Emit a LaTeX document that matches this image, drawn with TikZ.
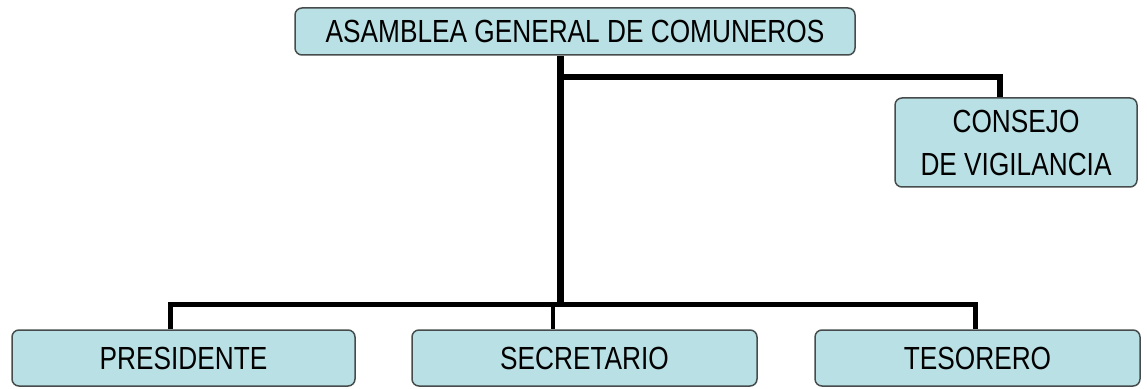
\documentclass[tikz,border=0pt]{standalone}
\usepackage{fontspec}
\setmainfont[FakeStretch=0.82]{Liberation Sans}
\usetikzlibrary{positioning}
\definecolor{celeste}{RGB}{185,224,228}
\definecolor{borde}{RGB}{70,76,76}
\tikzset{
	basic/.style  = {draw=borde, line width=1.5pt, fill=celeste, rounded corners=7pt,
		font=\fontsize{32}{43}\selectfont, align=center, inner sep=0pt},
	root/.style   = {basic, minimum width=560pt, minimum height=47pt},
	level 2/.style = {basic, minimum width=242pt, minimum height=89pt},
	level 3/.style = {basic, minimum height=56pt},
	enlace/.style = {draw=black, line width=5pt}
}
\begin{document}
\begin{tikzpicture}[x=1pt, y=1pt]
\useasboundingbox (0,0) rectangle (1147,388);

% root of the chart
\node[root] (asamblea) at (575,356.5) {ASAMBLEA GENERAL DE COMUNEROS};
% side branch
\node[level 2] (consejo) at (1016,245.5) {CONSEJO\\DE VIGILANCIA};
% the bottom row
\node[level 3, minimum width=343pt] (presidente) at (183.5,30) {PRESIDENTE};
\node[level 3, minimum width=345pt] (secretario) at (584.5,30) {SECRETARIO};
\node[level 3, minimum width=325pt] (tesorero) at (977.5,30) {TESORERO};

\coordinate (tronco) at (560,80.5);
\coordinate (rama) at (560,311);
\coordinate (cv) at (1000,311);
\coordinate (bi) at (170,83);
\coordinate (bd) at (975,83);
\coordinate (bs) at (553,83);

\draw[enlace, line width=7pt] (asamblea.south -| tronco) -- (tronco);
\draw[enlace, line width=6pt] (rama) -- (cv) -- (cv |- consejo.north);
\draw[enlace] (bi |- presidente.north) -- (bi) -- (bd) -- (bd |- tesorero.north);
\draw[enlace, line width=4pt] (bs) -- (bs |- secretario.north);

\end{tikzpicture}
\end{document}
